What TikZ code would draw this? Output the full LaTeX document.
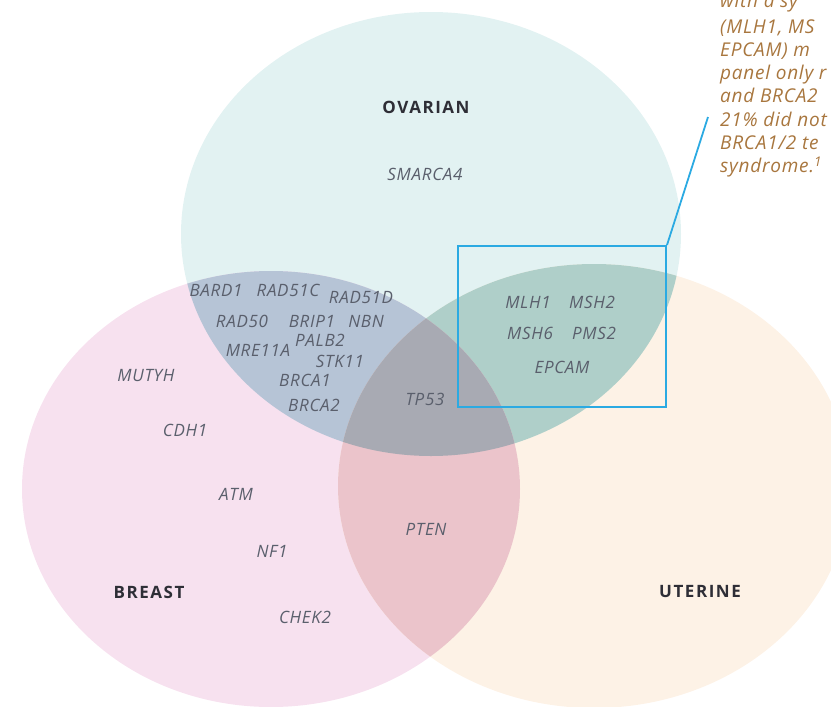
\documentclass[tikz,border=0pt]{standalone}
\usepackage{fontspec}
\setmainfont{Open Sans}
\definecolor{ovc}{HTML}{E2F2F2}
\definecolor{brc}{HTML}{F7E1EF}
\definecolor{utc}{HTML}{FDF2E6}
\definecolor{obc}{HTML}{B6C4D6}
\definecolor{ouc}{HTML}{AFCFC9}
\definecolor{buc}{HTML}{EBC4CB}
\definecolor{obuc}{HTML}{A8AAB3}
\definecolor{genec}{HTML}{5A5F6C}
\definecolor{regc}{HTML}{2E2E36}
\definecolor{notec}{HTML}{A8763E}
\definecolor{boxc}{HTML}{2BAAE2}
\def\ovE{(431,234) ellipse [x radius=250pt, y radius=222pt]}
\def\brE{(271,489) ellipse [x radius=249pt, y radius=218pt]}
\def\utE{(594,486) ellipse [x radius=256pt, y radius=222pt]}
\begin{document}
\begin{tikzpicture}[x=1pt,y=-1pt,
  gene/.style={font=\itshape\fontsize{17}{20}\selectfont\addfontfeature{LetterSpace=4}, text=genec, inner sep=0pt},
  region/.style={font=\bfseries\fontsize{17}{20}\selectfont\addfontfeature{LetterSpace=9}, text=regc, inner sep=0pt},
  note/.style={font=\itshape\fontsize{19}{23}\selectfont\addfontfeature{LetterSpace=4}, text=notec, inner sep=0pt, anchor=base west},
  hibox/.style={draw=boxc, line width=2pt, minimum width=208pt, minimum height=161pt, inner sep=0pt},
  leader/.style={draw=boxc, line width=1.8pt}]
\useasboundingbox (0,0) rectangle (831,707);
% base regions
\path[fill=ovc] \ovE;
\path[fill=brc] \brE;
\path[fill=utc] \utE;
\begin{scope}
  \clip \ovE;
  \path[fill=obc] \brE;
  \path[fill=ouc] \utE;
\end{scope}
\begin{scope}
  \clip \brE;
  \path[fill=buc] \utE;
  \clip \utE;
  \path[fill=obuc] \ovE;
\end{scope}
% region labels
\node[region] (ovarian) at (426,107) {OVARIAN};
\node[region] (breast) at (149,592) {BREAST};
\node[region] (uterine) at (700,592) {UTERINE};
% genes
\node[gene] (smarca4) at (425,174) {SMARCA4};
\node[gene] (bard1) at (216,290) {BARD1};
\node[gene] (rad51c) at (288,290) {RAD51C};
\node[gene] (rad51d) at (361,298) {RAD51D};
\node[gene] (rad50) at (242,321) {RAD50};
\node[gene] (brip1) at (312,321) {BRIP1};
\node[gene] (nbn) at (366,321) {NBN};
\node[gene] (palb2) at (320,340) {PALB2};
\node[gene] (mre11a) at (258,350) {MRE11A};
\node[gene] (stk11) at (340,361) {STK11};
\node[gene] (brca1) at (305,380) {BRCA1};
\node[gene] (brca2) at (314,405) {BRCA2};
\node[gene] (tp53) at (425,399) {TP53};
\node[gene] (mlh1) at (528,302) {MLH1};
\node[gene] (msh2) at (592,302) {MSH2};
\node[gene] (msh6) at (530,333) {MSH6};
\node[gene] (pms2) at (594,333) {PMS2};
\node[gene] (epcam) at (562,367) {EPCAM};
\node[gene] (mutyh) at (146,376) {MUTYH};
\node[gene] (cdh1) at (185,430) {CDH1};
\node[gene] (atm) at (236,494) {ATM};
\node[gene] (nf1) at (272,551) {NF1};
\node[gene] (chek2) at (305,617) {CHEK2};
\node[gene] (pten) at (426,529) {PTEN};
% highlight box and leader
\node[hibox] (box) at (562,326.5) {};
\coordinate (lead) at (708,117);
\draw[leader] (box.north east) -- (lead);
% side note (only the part the reference shows)
\node[note] (n0) at (720,7) {with a sy};
\node[note] (n1) at (720,33) {(MLH1, MS};
\node[note] (n2) at (720,56.3) {EPCAM) m};
\node[note] (n3) at (720,79.6) {panel only r};
\node[note] (n4) at (720,102.9) {and BRCA2};
\node[note] (n5) at (720,126.2) {21\% did not};
\node[note] (n6) at (720,149.5) {BRCA1/2 te};
\node[note] (n7) at (720,172.8) {syndrome.\textsuperscript{1}};
\end{tikzpicture}
\end{document}
